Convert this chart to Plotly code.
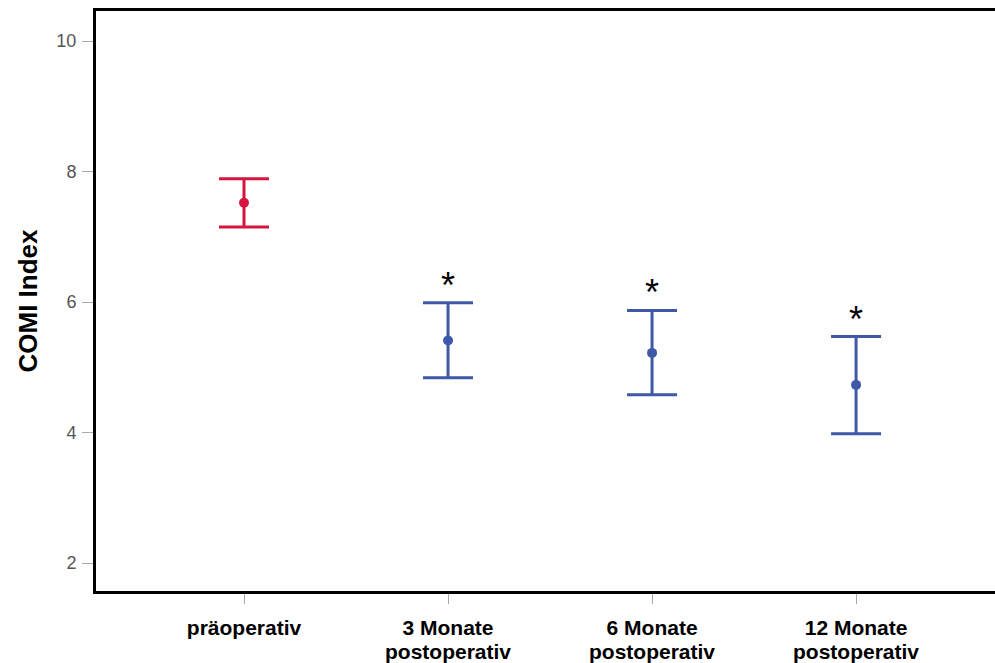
import plotly.graph_objects as go

line1 = ["präoperativ", "3 Monate", "6 Monate", "12 Monate"]
line2 = ["", "postoperativ", "postoperativ", "postoperativ"]
means = [7.52, 5.41, 5.22, 4.73]
upper = [7.89, 5.99, 5.87, 5.47]
lower = [7.15, 4.84, 4.58, 3.98]
colors = ["#D4163F", "#3F58A8", "#3F58A8", "#3F58A8"]
significant = [False, True, True, True]
y_ticks = [2, 4, 6, 8, 10]

FONT = "Liberation Sans, Arial"

fig = go.Figure()
for i in range(len(line1)):
    fig.add_trace(go.Scatter(
        x=[i], y=[means[i]], mode="markers",
        marker=dict(color=colors[i], size=10),
        error_y=dict(type="data", symmetric=False,
                     array=[upper[i] - means[i]],
                     arrayminus=[means[i] - lower[i]],
                     color=colors[i], thickness=3, width=25),
        showlegend=False, hoverinfo="skip"))
    if significant[i]:
        fig.add_annotation(x=i, y=upper[i], text="*", showarrow=False,
                           yanchor="bottom", yshift=-5,
                           font=dict(family=FONT, size=36, color="black"))
    if line2[i]:
        fig.add_annotation(x=i, y=0, yref="paper", text="<b>%s</b>" % line2[i],
                           showarrow=False, yanchor="middle", yshift=-60,
                           borderpad=0,
                           font=dict(family=FONT, size=21, color="black"))

fig.update_layout(
    width=995, height=663,
    margin=dict(l=96, r=0, t=11, b=72),
    plot_bgcolor="white", paper_bgcolor="white",
    font=dict(family=FONT, color="black"),
)
fig.update_xaxes(
    range=[-0.7255, 3.681],
    tickmode="array", tickvals=list(range(len(line1))), ticktext=line1,
    ticks="outside", ticklen=10, tickcolor="#aaaaaa", tickwidth=1,
    tickfont=dict(family=FONT, size=21, color="black", weight="bold"),
    showline=True, linecolor="black", linewidth=3, mirror=True,
    showgrid=False, zeroline=False, ticklabelstandoff=6,
)
fig.update_yaxes(
    range=[1.571, 10.46],
    tickmode="array", tickvals=y_ticks, ticktext=[str(v) for v in y_ticks],
    ticks="outside", ticklen=11, tickcolor="#aaaaaa", tickwidth=1,
    tickfont=dict(family=FONT, size=18, color="#555555"),
    showline=True, linecolor="black", linewidth=3, mirror=False,
    showgrid=False, zeroline=False, ticklabelstandoff=2,
    title=dict(text="<b>COMI Index</b>", font=dict(family=FONT, size=26, color="black"), standoff=12),
)

fig.write_html("out.html", config={"displayModeBar": False},
               post_script="document.body.style.margin='0px';")
